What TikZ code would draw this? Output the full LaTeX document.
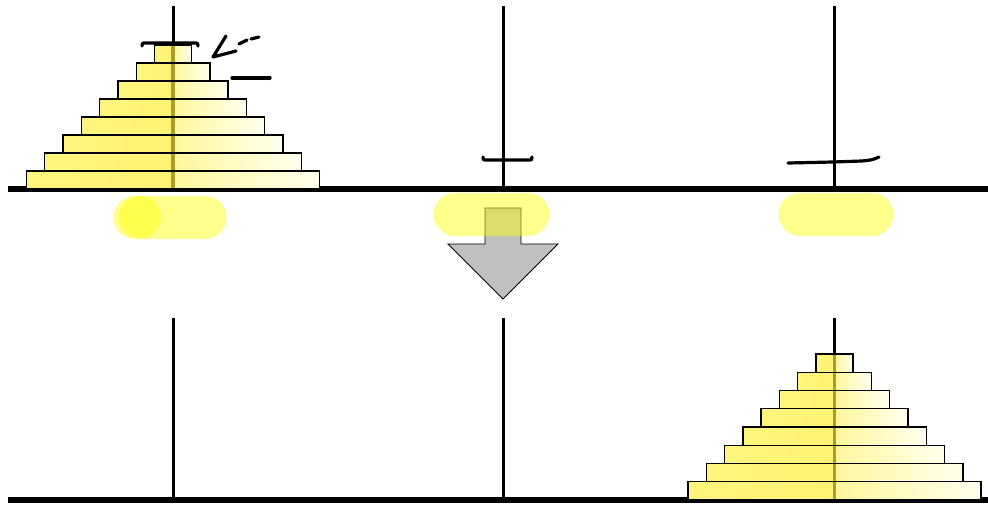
\documentclass[tikz,border=0pt]{standalone}
\usepackage{xcolor}
\usepackage{tikz}
\definecolor{diskedge}{RGB}{255,245,125}
\definecolor{diskcore}{RGB}{255,236,75}
\definecolor{diskinner}{RGB}{255,242,115}
\definecolor{diskpale}{RGB}{255,247,155}
\definecolor{diskwhite}{RGB}{255,255,238}
\definecolor{pegshade}{RGB}{168,156,50}
\definecolor{arrowgray}{RGB}{192,192,192}
\definecolor{marker}{RGB}{255,255,0}

\begin{document}
\begin{tikzpicture}[
  x=1pt,y=-1pt,
  peg/.style={line width=3pt,black},
  base/.style={line width=6.5pt,black},
  diskleft/.style={left color=diskedge,middle color=diskcore,right color=diskinner},
  diskright/.style={left color=diskpale,right color=diskwhite},
  diskline/.style={draw=black,line width=1.4pt},
  pegthrough/.style={line width=3.5pt,pegshade},
  ink/.style={line width=3.2pt,line cap=round,line join=round,black},
  highlight/.style={line width=43pt,line cap=round,marker,opacity=0.45},
  bigarrow/.style={draw=black,line width=0.8pt,fill=arrowgray}
]
\useasboundingbox (0,0) rectangle (988,506);

% stands: three pegs on each row
\foreach \cx/\left/\right in {173/8/338, 503/338/668, 834/668/988} {
  \draw[peg] (\cx,6) -- (\cx,189);
  \draw[base] (\left,189) -- (\right,189);
  \draw[peg] (\cx,318) -- (\cx,500);
  \draw[base] (\left,500) -- (\right,500);
}

% towers of eight disks
\foreach \cx/\ty/\h in {173/45/18, 834.5/354/18.25} {
  \foreach \i in {1,...,8} {
    \pgfmathsetmacro\hw{18.5+(\i-1)*18.3}
    \pgfmathsetmacro\yt{\ty+(\i-1)*\h}
    \shade[diskleft] (\cx-\hw,\yt) rectangle (\cx,\yt+\h);
    \shade[diskright] (\cx,\yt) rectangle (\cx+\hw,\yt+\h);
  }
  \draw[pegthrough] (\cx,\ty) -- (\cx,\ty+8*\h);
  \foreach \i in {1,...,8} {
    \pgfmathsetmacro\hw{18.5+(\i-1)*18.3}
    \pgfmathsetmacro\yt{\ty+(\i-1)*\h}
    \draw[diskline] (\cx-\hw,\yt) rectangle (\cx+\hw,\yt+\h);
  }
}

% hand-drawn marks
\draw[ink] (142,46) .. controls (142,43) .. (146,43) -- (194,43) .. controls (198,43) .. (198,46);
\draw[ink] (226,36) -- (213,57) -- (236,51);
\draw[ink] (239,44) -- (247,40);
\draw[ink] (251,39) -- (259,37);
\draw[ink] (232,78) -- (270,78);
\fill (269,78) circle (2.2pt);
\draw[ink] (483,157) .. controls (483,160) .. (487,160) -- (528,160) .. controls (532,160) .. (532,157);
\draw[ink] (788,163) -- (833,162) -- (862,161) .. controls (872,160) .. (879,157);

% move arrow
\path[bigarrow] (485,208) -- (521,208) -- (521,244) -- (558,244) -- (503,299)
  -- (448,244) -- (485,244) -- cycle;

% marker highlights
\draw[highlight] (135,217) -- (205,217);
\fill[marker,opacity=0.45] (140,217) circle (21);
\draw[highlight] (455,214) -- (528,214);
\draw[highlight] (800,214) -- (872,214);
\end{tikzpicture}
\end{document}
